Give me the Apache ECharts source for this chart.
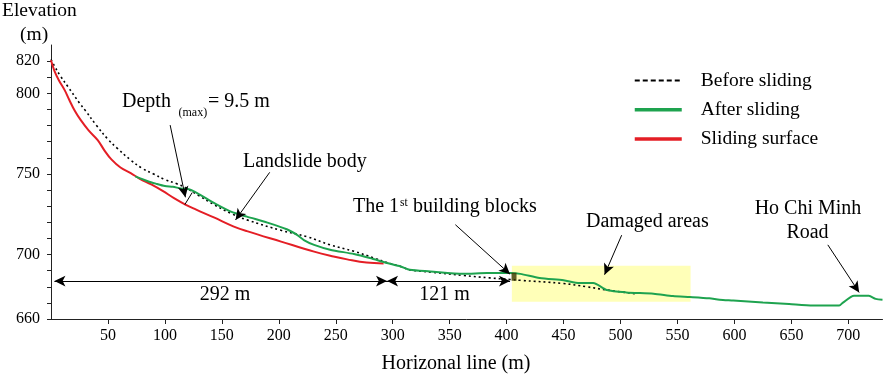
<!DOCTYPE html>
<html>
<head>
<meta charset="utf-8">
<script src="https://cdn.jsdelivr.net/npm/echarts@6/dist/echarts.min.js"></script>
<style>
html,body{margin:0;padding:0;background:#fff;}
#chart{width:887px;height:375px;}
</style>
</head>
<body>
<div id="chart"></div>
<script>
// ---- data (x: horizontal distance m, y: elevation m) ----
const beforeX = [0,3,8,15,25,30,40,50,58,70,80,90,100,110,118,130,143,158,172,202,225,245,266,283,295,307,315,335,362,385,403,412,450,470,488,515];
const beforeY = [821,817,811,804,794,789.5,780,771.5,766,758.6,753.5,750,746.5,744,741.5,736.5,731,725.5,721.5,715,711,706,702,698,695,692.6,690.5,689,687,685.5,684.5,684,682,680,678,675.5];

const afterX = [74,85,92,100,107,114,121,126,131,137,143,158,172,190,207,216,222,231,245,266,280,295,307,315,333,362,383,403,412,429,450,464,476,488,505,529,546,561,578,587,599,625,648,669,692,695,705,718,724,730];
const afterY = [748.5,745.5,744,742.5,742,741,740.5,739,737,734.5,732,726.6,723.5,719.8,715.7,712.2,709,706,703,700.3,697.8,694.7,692.6,690.5,689.5,688,688.5,688.5,688,685.4,684,682.3,682.3,678,676.5,675.7,674.2,673.6,672.8,672,671.5,670.3,669.3,668.4,668.4,670,674.4,674.4,672.5,672];

const surfaceX = [0,3,7,12,16,21,26,33,41,47,53,61,70,78,88,98,108,118,127,143,160,172,202,231,248,260,277,292];
const surfaceY = [820.5,814,808,802,796,789,783.5,777,771,764.5,759,754,750.5,747,743.5,739.5,735,731,728,723,717.5,714.5,708,701.8,698.8,697,695,694.5];

const buildingBlock = [[406.5, 686.2]];
const damagedArea = [[404.6, 693], [561.5, 670.7]];

// annotation arrows [x1, y1, x2, y2] (data coords), arrow head at second point
const pointerArrows = [
  [104.6, 780.3, 118, 735.5],
  [192, 751, 162, 721.5],
  [355, 718.5, 403, 687.8],
  [501, 712, 486, 687.5],
  [682, 706, 709.5, 676.5]
];
const depthMarker = [117.5, 731, 124, 738.5];
const dimensionArrows = [
  [3, 683.5, 295, 683.5],
  [295, 683.5, 403, 683.5]
];

const xTicks = [50,100,150,200,250,300,350,400,450,500,550,600,650,700];
const yTicks = [660,670,680,690,700,710,720,730,740,750,760,770,780,790,800,810,820];
const yLabels = [660,700,750,800,820];

const zip = (a, b) => a.map((v, i) => [v, b[i]]);

const SERIF = '"Liberation Serif","Times New Roman",serif';
const chart = echarts.init(document.getElementById('chart'), null, {renderer: 'canvas'});

function txt(text, x, y, size, align) {
  return {
    type: 'text',
    silent: true,
    z: 100,
    style: {
      text: text, x: x, y: y,
      font: size + 'px ' + SERIF,
      fill: '#000',
      align: align || 'left', textAlign: align || 'left',
      verticalAlign: 'middle', textVerticalAlign: 'middle'
    }
  };
}

const markLineData = [];
pointerArrows.forEach(a => markLineData.push([
  {coord: [a[0], a[1]], symbol: 'none'},
  {coord: [a[2], a[3]], symbol: 'arrow'}
]));
dimensionArrows.forEach(a => markLineData.push([
  {coord: [a[0], a[1]], symbol: 'arrow'},
  {coord: [a[2], a[3]], symbol: 'arrow'}
]));
markLineData.push([
  {coord: [depthMarker[0], depthMarker[1]], symbol: 'none'},
  {coord: [depthMarker[2], depthMarker[3]], symbol: 'none'}
]);

const hiddenSymbol = {color: 'rgba(0,0,0,0)', borderColor: 'rgba(0,0,0,0)', borderWidth: 0, opacity: 0};

const option = {
  animation: false,
  backgroundColor: '#fff',
  grid: {left: 51, right: 4.5, top: 45, bottom: 56, containLabel: false},
  legend: {
    orient: 'vertical',
    left: 633,
    top: 70.5,
    padding: 0,
    itemWidth: 47,
    itemHeight: 14,
    itemGap: 9.2,
    selectedMode: false,
    textStyle: {fontFamily: SERIF, fontSize: 19.5, color: '#000', lineHeight: 19, padding: [0, 0, 0, 14]},
    data: [
      {name: 'Before sliding', itemStyle: hiddenSymbol, lineStyle: {type: [5, 3], width: 2, color: '#000'}},
      {name: 'After sliding', itemStyle: hiddenSymbol, lineStyle: {width: 3.5, color: '#1ea34f'}},
      {name: 'Sliding surface', itemStyle: hiddenSymbol, lineStyle: {width: 3.5, color: '#e41e25'}}
    ]
  },
  xAxis: {
    type: 'value', min: 0, max: 730,
    axisLine: {show: true, onZero: false, lineStyle: {color: '#222', width: 1}},
    axisTick: {show: true, length: 5, lineStyle: {color: '#222'}, customValues: xTicks},
    axisLabel: {customValues: xTicks, margin: 9, fontFamily: SERIF, fontSize: 16, color: '#000'},
    splitLine: {show: false}
  },
  yAxis: {
    type: 'value', min: 660, max: 830,
    axisLine: {show: true, onZero: false, lineStyle: {color: '#222', width: 1}},
    axisTick: {show: true, length: 4, lineStyle: {color: '#222'}, customValues: yTicks},
    axisLabel: {customValues: yLabels, margin: 11, fontFamily: SERIF, fontSize: 16, color: '#000'},
    splitLine: {show: false}
  },
  series: [
    {
      name: 'annotations',
      type: 'line',
      data: [],
      silent: true,
      z: 1,
      markArea: {
        silent: true,
        itemStyle: {color: '#ffffb8'},
        data: [[{coord: damagedArea[0]}, {coord: damagedArea[1]}]]
      }
    },
    {
      name: 'Before sliding',
      type: 'line',
      data: zip(beforeX, beforeY),
      showSymbol: false, symbol: 'none',
      smooth: 0.4,
      z: 3,
      lineStyle: {color: '#000', width: 1.6, type: [2, 3]},
      itemStyle: {color: '#000'}
    },
    {
      name: 'After sliding',
      type: 'line',
      data: zip(afterX, afterY),
      showSymbol: false, symbol: 'none',
      smooth: 0.25,
      z: 4,
      lineStyle: {color: '#1ea34f', width: 2},
      itemStyle: {color: '#1ea34f'}
    },
    {
      name: 'Sliding surface',
      type: 'line',
      data: zip(surfaceX, surfaceY),
      showSymbol: false, symbol: 'none',
      smooth: 0.4,
      z: 3,
      lineStyle: {color: '#e41e25', width: 2},
      itemStyle: {color: '#e41e25'}
    },
    {
      name: 'building',
      type: 'scatter',
      data: buildingBlock,
      symbol: 'rect',
      symbolSize: [5, 8],
      z: 6,
      silent: true,
      itemStyle: {color: '#3a3800'}
    },
    {
      name: 'arrows',
      type: 'line',
      data: [],
      silent: true,
      z: 7,
      markLine: {
        silent: true,
        animation: false,
        symbolSize: [8, 11],
        lineStyle: {color: '#000', width: 1, type: 'solid'},
        label: {show: false},
        emphasis: {disabled: true},
        data: markLineData
      }
    }
  ],
  graphic: [
    txt('Elevation', 2, 11, 19.5),
    txt('(m)', 20, 35, 19.5),
    txt('Horizonal line (m)', 456, 364, 20, 'center'),
    txt('Depth', 122, 102, 20),
    txt('(max)', 178.5, 113, 12),
    txt('= 9.5 m', 208, 102, 20),
    txt('Landslide body', 243, 162, 20),
    txt('The 1', 353, 207, 20),
    txt('st', 400, 203, 11.5),
    txt('building blocks', 413, 207, 20),
    txt('Damaged areas', 586, 222, 20),
    txt('Ho Chi Minh', 808, 209, 20, 'center'),
    txt('Road', 807.5, 233, 20, 'center'),
    txt('292 m', 225, 294.5, 20, 'center'),
    txt('121 m', 444.5, 295, 20, 'center')
  ]
};
chart.setOption(option);
</script>
</body>
</html>
